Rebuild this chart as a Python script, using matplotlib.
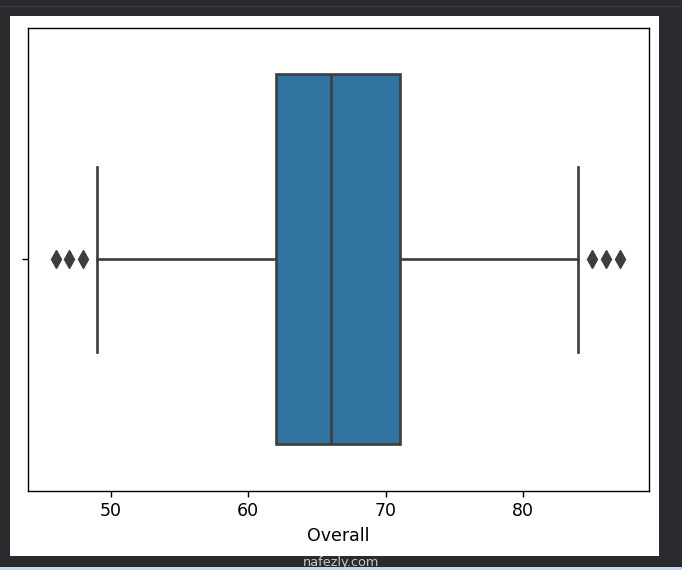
import matplotlib
matplotlib.use("Agg")
import matplotlib.pyplot as plt
from matplotlib.patches import Rectangle

# Data
label = "Overall"
q1 = 62
median = 66
q3 = 71
whisker_low = 49
whisker_high = 84
fliers = [46, 47, 48, 85, 86, 87]

W, H = 682, 570
fig = plt.figure(figsize=(W / 100, H / 100), dpi=100, facecolor="#2a2b2e")

# white notebook output area
fig.patches.append(Rectangle((9.5 / W, (H - 556) / H), (659 - 9.5) / W, (556 - 16) / H,
                             transform=fig.transFigure, facecolor="white", edgecolor="none", zorder=-10))
# thin lighter line at top
fig.patches.append(Rectangle((0, (H - 7) / H), 1, 1.2 / H, transform=fig.transFigure,
                             facecolor="#3c3e42", edgecolor="none", zorder=-10))
# light strip at bottom
fig.patches.append(Rectangle((0, 0), 1, 3.5 / H, transform=fig.transFigure,
                             facecolor="#c8d6ee", edgecolor="none", zorder=-10))

ax = fig.add_axes([27.8 / W, (H - 490.5) / H, (648.7 - 27.8) / W, (490.5 - 27.8) / H])

stats = [dict(med=median, q1=q1, q3=q3, whislo=whisker_low, whishi=whisker_high,
              fliers=fliers, label=label)]
line_col = "#3d3d3d"
lw = 1.9
ax.bxp(stats, positions=[0], widths=0.8, vert=False, patch_artist=True,
       boxprops=dict(facecolor="#3274a1", edgecolor=line_col, linewidth=lw),
       medianprops=dict(color=line_col, linewidth=lw),
       whiskerprops=dict(color=line_col, linewidth=lw),
       capprops=dict(color=line_col, linewidth=lw),
       flierprops=dict(marker="d", markerfacecolor=line_col, markeredgecolor=line_col,
                       markersize=8.7, linestyle="none"))

ax.set_ylim(0.5, -0.5)
ax.set_yticks([0])
ax.set_yticklabels([""])
ax.set_xlim(43.97, 89.12)
ax.set_xticks([50, 60, 70, 80])
ax.tick_params(labelsize=12.5, length=4.5, width=1.0)
ax.set_xlabel(label, fontsize=12.5, labelpad=5)
for s in ax.spines.values():
    s.set_linewidth(1.0)

fig.text(341 / W, 7.5 / H, "nafezly.com", ha="center", va="center", fontsize=9.3, color="#c8c8c8")

fig.savefig("out.png", dpi=100, facecolor=fig.get_facecolor())
